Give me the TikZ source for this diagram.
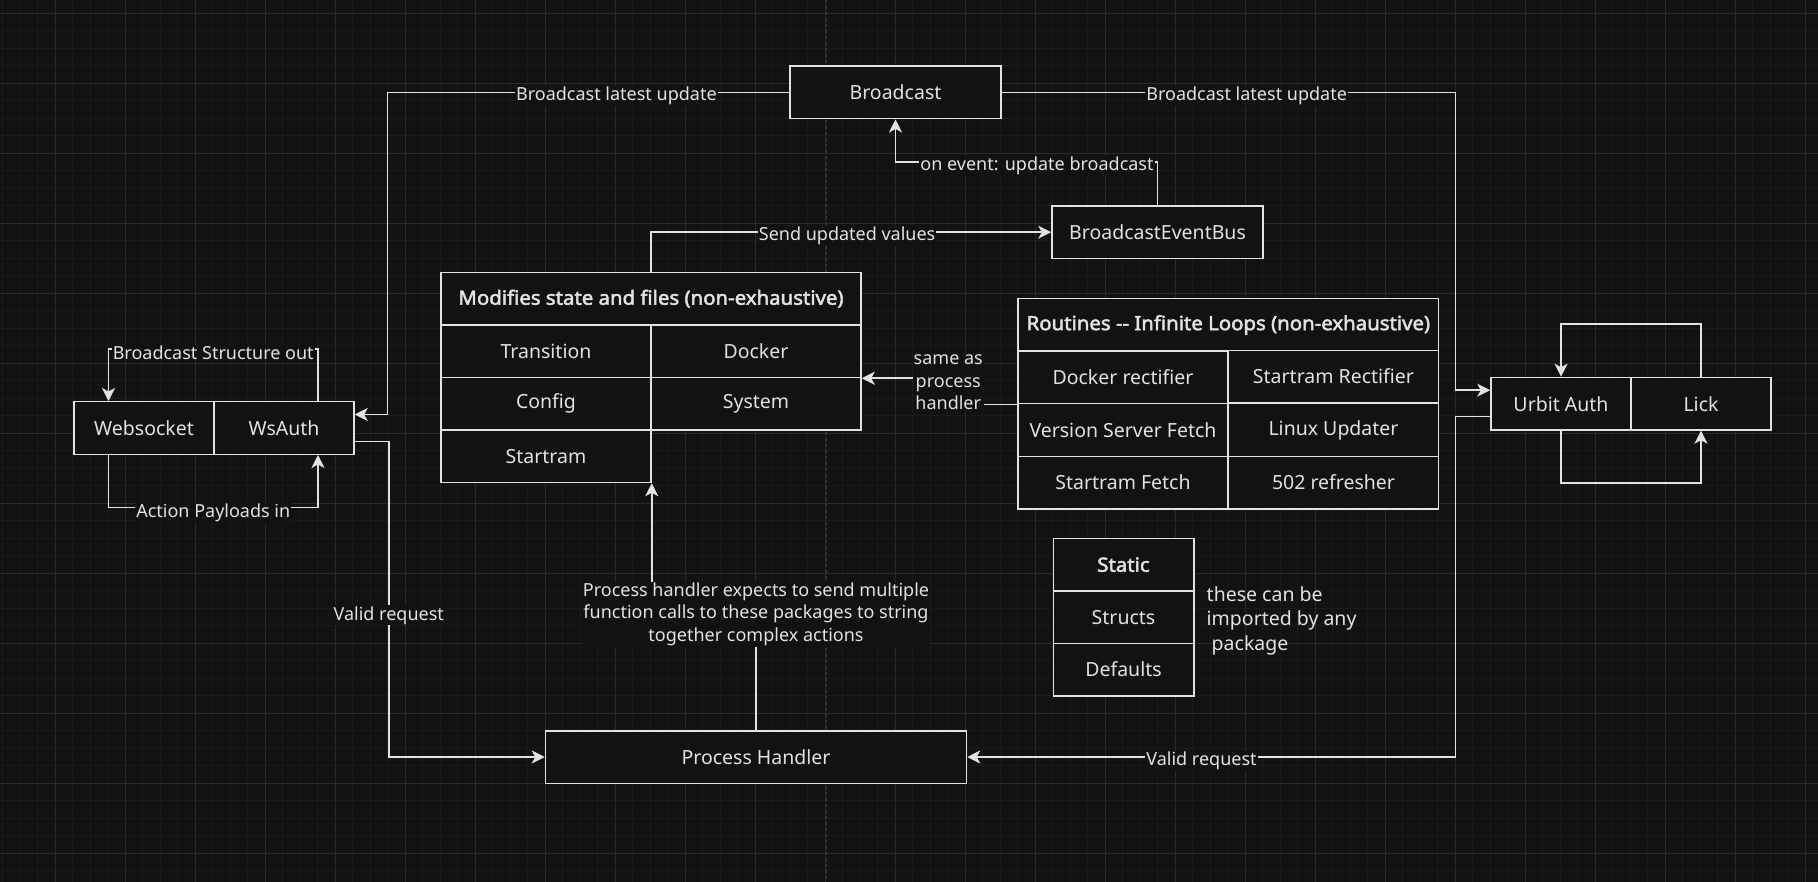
\documentclass[tikz,border=0pt]{standalone}
\usepackage{fontspec}
\setmainfont{Noto Sans}[BoldFont={Noto Sans},BoldFeatures={FakeBold=2.5,FakeStretch=1.045}]
\usetikzlibrary{arrows.meta,calc,positioning}
\definecolor{bgDark}{HTML}{121212}
\definecolor{gridMinor}{HTML}{1B1B1B}
\definecolor{gridMajor}{HTML}{2A2A2A}
\definecolor{pageLine}{HTML}{3C3C3C}
\definecolor{inkLight}{HTML}{E2E2E2}

\begin{document}
\begin{tikzpicture}[x=1pt,y=-1pt,>={Stealth[length=13pt,width=13pt,inset=3.5pt]},
  box/.style={draw=inkLight,fill=bgDark,line width=1.5pt,text=inkLight,inner sep=0pt,minimum height=52.5pt,font=\fontsize{19.5}{24.4}\selectfont},
  wide/.style={box,minimum width=421pt},
  half/.style={box,minimum width=210pt},
  small/.style={box,minimum width=140pt},
  head/.style={box,font=\fontsize{19.5}{24.4}\selectfont\bfseries},
  conn/.style={draw=inkLight,line width=1.5pt},
  lbl/.style={fill=bgDark,text=inkLight,inner sep=1pt,yshift=-3.5pt,font=\fontsize{18}{22.5}\selectfont,align=center}]
\useasboundingbox (0,0) rectangle (1818,882);
\fill[bgDark] (0,0) rectangle (1818,882);
\foreach \gx in {0,...,103} \draw[gridMinor,line width=1pt] ({2.5+17.5*\gx},0) -- ++(0,882);
\foreach \gy in {-1,...,50} \draw[gridMinor,line width=1pt] (0,{13.3+17.5*\gy}) -- ++(1818,0);
\foreach \gx in {0,...,25} \draw[gridMajor,line width=1pt] ({55+70*\gx},0) -- ++(0,882);
\foreach \gy in {0,...,12} \draw[gridMajor,line width=1pt] (0,{13.3+70*\gy}) -- ++(1818,0);
\draw[pageLine,line width=1pt,dash pattern=on 3pt off 3pt] (826.7,0) -- (826.7,882);

\node[box,minimum width=211pt] (bcast) at (895.5,92.5) {Broadcast};
\node[box,minimum width=211pt] (bus) at (1157.5,232.2) {BroadcastEventBus};
\node[small] (wsock) at (144,428) {Websocket};
\node[small] (wsauth) at (284,428) {WsAuth};
\node[head,minimum width=420pt] (modh) at (651,298.75) {Modifies state and files (non-exhaustive)};
\node[half] (mTrans) at (546,351.25) {Transition};
\node[half] (mDock) at (756,351.25) {Docker};
\node[half] (mConf) at (546,403.75) {Config};
\node[half] (mSys) at (756,403.75) {System};
\node[half] (mStart) at (546,456.25) {Startram};
\node[head,minimum width=420.7pt] (rth) at (1228.35,325) {Routines -{}- Infinite Loops (non-exhaustive)};
\node[half] (rDock) at (1123,377.5) {Docker rectifier};
\node[half] (rStart) at (1333.5,376.6) {Startram Rectifier};
\node[half] (rVers) at (1123,430) {Version Server Fetch};
\node[half] (rLinux) at (1333.5,430) {Linux Updater};
\node[half] (rFetch) at (1123,482.5) {Startram Fetch};
\node[half] (rRefresh) at (1333.5,482.5) {502 refresher};
\node[small] (uauth) at (1561,403.7) {Urbit Auth};
\node[small] (lick) at (1701,403.7) {Lick};
\node[wide] (proc) at (756,757) {Process Handler};
\node[head,minimum width=140.5pt] (stHead) at (1123.5,564.6) {Static};
\node[small,minimum width=140.5pt] (stStruct) at (1123.5,617.1) {Structs};
\node[small,minimum width=140.5pt] (stDef) at (1123.5,669.6) {Defaults};
\node[lbl,fill=none,align=left,anchor=west,font=\fontsize{19.5}{24.4}\selectfont,right=11pt of stStruct] (impNote) {these can be\\imported by any\\\hspace*{5pt}package};

\draw[conn,->] (bcast.west) -- node[lbl,pos=.43]{Broadcast latest update} ++(-402,0) |- ($(wsauth.north east)!.25!(wsauth.south east)$);
\draw[conn,->] ($(wsauth.north east)!.75!(wsauth.south east)$) -- ++(34,0) |- node[lbl,pos=.27]{Valid request} (proc.west);
\draw[conn,->] ([xshift=34pt]wsauth.north) -- ++(0,-52) -| node[lbl,pos=.25]{Broadcast Structure out} ([xshift=-35.5pt]wsock.north);
\draw[conn,->] ([xshift=-35.5pt]wsock.south) -- ++(0,52.5) -| node[lbl,pos=.25,yshift=-1.5pt]{Action Payloads in} ([xshift=34pt]wsauth.south);
\draw[conn,->] (modh.north) |- node[lbl,pos=.745]{Send updated values} (bus.west);
\draw[conn,->] (bus.north) -- ++(0,-43) -| node[lbl,pos=.23]{on event: update broadcast} (bcast.south);
\draw[conn,->] (bcast.east) -| node[lbl,pos=.27]{Broadcast latest update} ([xshift=-35pt,yshift=13.5pt]uauth.west) -- ([yshift=13.5pt]uauth.west);
\draw[conn,->] ([yshift=-13pt]uauth.west) -- ++(-35,0) |- node[lbl,pos=.76]{Valid request} (proc.east);
\draw[conn,->] (lick.north) -- ++(0,-52.5) -| (uauth.north);
\draw[conn,->] (uauth.south) -- ++(0,52.5) -| (lick.south);
\draw[conn,->] (rDock.south west) -- ++(-69,0) |- node[lbl,pos=.45,yshift=2pt]{same as\\process\\handler} (mDock.south east);
\draw[conn,->] (proc.north) -- ++(0,-119.25) node[lbl]{Process handler expects to send multiple\\function calls to these packages to string\\together complex actions} -| (mStart.south east);
\end{tikzpicture}
\end{document}
